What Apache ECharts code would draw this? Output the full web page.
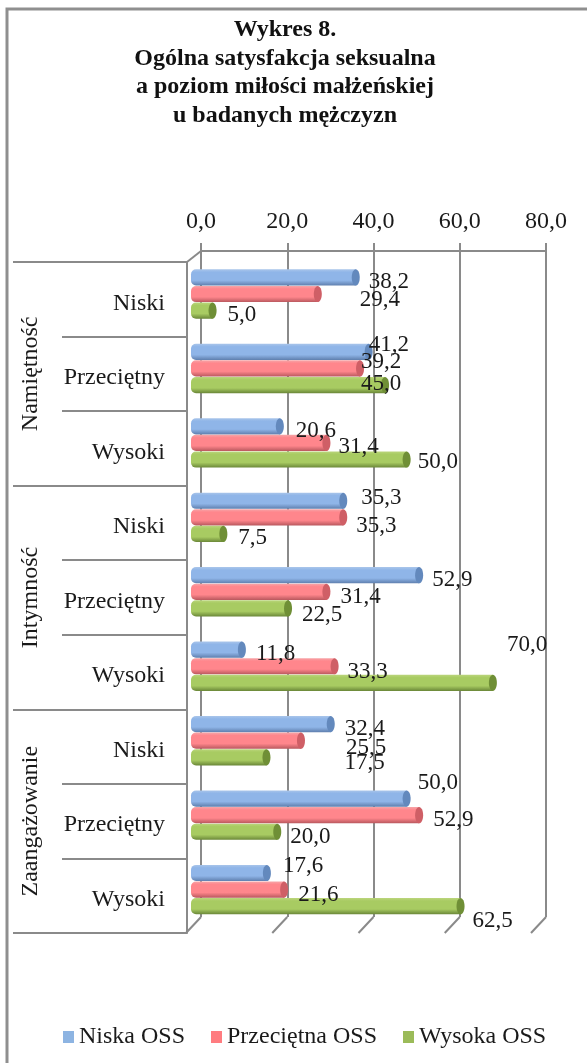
<!DOCTYPE html>
<html>
<head>
<meta charset="utf-8">
<style>html,body{margin:0;padding:0;background:#fff}#chart{width:587px;height:1063px}</style>
<script src="https://cdn.jsdelivr.net/npm/echarts@6/dist/echarts.min.js"></script>
</head>
<body>
<div id="chart"></div>
<script>
const titleLines = ['Wykres 8.', 'Ogólna satysfakcja seksualna', 'a poziom miłości małżeńskiej', 'u badanych mężczyzn'];
const groups = ['Namiętność', 'Intymność', 'Zaangażowanie'];
const levels = ['Niski', 'Przeciętny', 'Wysoki', 'Niski', 'Przeciętny', 'Wysoki', 'Niski', 'Przeciętny', 'Wysoki'];
const seriesNames = ['Niska OSS', 'Przeciętna OSS', 'Wysoka OSS'];
const niska = [38.2, 41.2, 20.6, 35.3, 52.9, 11.8, 32.4, 50.0, 17.6];
const przecietna = [29.4, 39.2, 31.4, 35.3, 31.4, 33.3, 25.5, 52.9, 21.6];
const wysoka = [5.0, 45.0, 50.0, 7.5, 22.5, 70.0, 17.5, 20.0, 62.5];
const ticks = [0, 20, 40, 60, 80];

// the labels in the original were dragged by hand, so each one has its own nudge
const nudgeX = [
  [0, -13, 3, 5, 0, 1, 1, -2, 3],
  [29, -12, -1, 0, 1, 0, 32, 1, 1],
  [2, -37, -2, 2, 1, 1, 65, 0, -1]
];
const nudgeY = [
  [-1, -12, -1, -8, 0, -1, 0, -21, -12],
  [1, -12, -1, 3, 0, 1, 2, 0, 0],
  [-1, -6, -3, -1, 1, -43, 0, 0, 10]
];

const serif = '"Liberation Serif", serif';
const wall = '#8a8a8a';
const legendColors = ['#8DB4E2', '#FF7C80', '#9BBB59'];
const tubes = [
  { top: '#a9c5ea', mid: '#8fb5e8', low: '#5f7fae', cap: '#6389bd' },
  { top: '#f6a5a8', mid: '#ff868c', low: '#b9585e', cap: '#cf5f66' },
  { top: '#bbd57c', mid: '#a8cb62', low: '#6a8738', cap: '#6f8f36' }
];
const barH = 16.6;
const capR = 4;

function tube(idx) {
  return function (params, api) {
    const v = api.value(0);
    const cat = api.value(1);
    const end = api.coord([v, cat]);
    const x0 = api.coord([0, cat])[0];
    const y = end[1] - barH * 1.5 + idx * barH;
    const c = tubes[idx];
    const fill = new echarts.graphic.LinearGradient(0, 0, 0, 1, [
      { offset: 0, color: c.top },
      { offset: 0.18, color: c.mid },
      { offset: 0.68, color: c.mid },
      { offset: 1, color: c.low }
    ]);
    return {
      type: 'group',
      children: [
        { type: 'rect', z2: 1, shape: { x: x0, y: y, width: end[0] - x0, height: barH - 0.4, r: [5, 0, 0, 5] }, style: { fill: fill } },
        { type: 'ellipse', z2: 2, shape: { cx: end[0], cy: y + barH / 2 - 0.2, rx: capR, ry: barH / 2 - 0.2 }, style: { fill: c.cap } },
        {
          type: 'text',
          z2: 20,
          style: {
            x: end[0] + capR + 9 + nudgeX[idx][cat],
            y: y + barH / 2 + 5 + nudgeY[idx][cat],
            text: v.toFixed(1).replace('.', ','),
            font: '23px ' + serif,
            fill: '#1a1a1a',
            verticalAlign: 'middle'
          }
        }
      ]
    };
  };
}

// perspective edges of the side wall: one short diagonal under each gridline, plus the top corner
function wallEdges(params, api) {
  const p = api.coord([api.value(0), 0]);
  const bottomY = params.coordSys.y + params.coordSys.height;
  const kids = [{ type: 'line', shape: { x1: p[0], y1: bottomY, x2: p[0] - 15, y2: bottomY + 16 }, style: { stroke: wall, lineWidth: 2 } }];
  if (api.value(0) === 0) {
    kids.push({ type: 'line', shape: { x1: p[0], y1: params.coordSys.y, x2: p[0] - 14, y2: params.coordSys.y + 11 }, style: { stroke: wall, lineWidth: 2 } });
  }
  return { type: 'group', children: kids };
}

const chart = echarts.init(document.getElementById('chart'));
chart.setOption({
  animation: false,
  backgroundColor: '#fff',
  graphic: [
    { type: 'rect', shape: { x: 7, y: 9, width: 600, height: 1100 }, style: { fill: 'none', stroke: '#8f8f8f', lineWidth: 3 } }
  ],
  title: {
    text: titleLines.join('\n'),
    left: 280,
    top: 11,
    textAlign: 'center',
    textStyle: { fontFamily: serif, fontWeight: 'bold', fontSize: 24, lineHeight: 28.4, color: '#111' }
  },
  legend: {
    data: seriesNames,
    left: 58,
    top: 1020,
    icon: 'rect',
    itemWidth: 11,
    itemHeight: 12,
    itemGap: 26,
    textStyle: { fontFamily: serif, fontSize: 24, color: '#1a1a1a' }
  },
  grid: [
    { left: 201, top: 251, width: 345, height: 666 },
    { left: 187, top: 262, width: 345, height: 671 },
    { left: 191, top: 257, width: 345, height: 670 },
    { left: 187, top: 266, width: 345, height: 671 }
  ],
  xAxis: [
    {
      gridIndex: 0, type: 'value', position: 'top', min: 0, max: 80, interval: 20,
      axisLine: { show: true, onZero: false, lineStyle: { color: wall, width: 2 } },
      axisTick: { show: true, length: 8, lineStyle: { color: wall, width: 2 } },
      splitLine: { show: true, lineStyle: { color: wall, width: 2 } },
      axisLabel: { margin: 17, fontFamily: serif, fontSize: 24, color: '#1a1a1a', formatter: v => v.toFixed(1).replace('.', ',') }
    },
    { gridIndex: 1, type: 'value', show: false },
    { gridIndex: 2, type: 'value', min: 0, max: 80, show: false },
    { gridIndex: 3, type: 'value', show: false }
  ],
  yAxis: [
    { gridIndex: 0, type: 'value', min: 0, max: 1, show: false },
    {
      gridIndex: 1, type: 'category', data: levels, inverse: true,
      axisLine: { show: true, onZero: false, lineStyle: { color: wall, width: 2 } },
      axisTick: { show: true, length: 125, lineStyle: { color: wall, width: 2 } },
      axisLabel: { show: false },
      splitLine: { show: false }
    },
    {
      gridIndex: 1, type: 'category', data: groups, inverse: true, position: 'left',
      axisLine: { show: false, onZero: false },
      axisTick: { show: true, length: 174, lineStyle: { color: wall, width: 2 } },
      axisLabel: { margin: 156, rotate: 90, fontFamily: serif, fontSize: 24, color: '#1a1a1a', align: 'center', verticalAlign: 'middle' },
      splitLine: { show: false }
    },
    { gridIndex: 2, type: 'category', data: levels.map((d, i) => i), inverse: true, show: false },
    // labels sit a little below the band centres in the original, so they get their own grid
    {
      gridIndex: 3, type: 'category', data: levels, inverse: true,
      axisLine: { show: false, onZero: false },
      axisTick: { show: false },
      axisLabel: { margin: 22, fontFamily: serif, fontSize: 24, color: '#1a1a1a' },
      splitLine: { show: false }
    }
  ],
  series: [
    { type: 'custom', name: 'wall', xAxisIndex: 0, yAxisIndex: 0, silent: true, clip: false, z: 1, renderItem: wallEdges, encode: { x: 0 }, data: ticks.map(t => [t]) },
    ...[niska, przecietna, wysoka].map((vals, idx) => ({
      type: 'custom',
      name: seriesNames[idx],
      xAxisIndex: 2,
      yAxisIndex: 3,
      z: 5,
      clip: false,
      itemStyle: { color: legendColors[idx] },
      renderItem: tube(idx),
      encode: { x: 0, y: 1 },
      data: vals.map((v, i) => [v, i])
    }))
  ]
});
</script>
</body>
</html>
